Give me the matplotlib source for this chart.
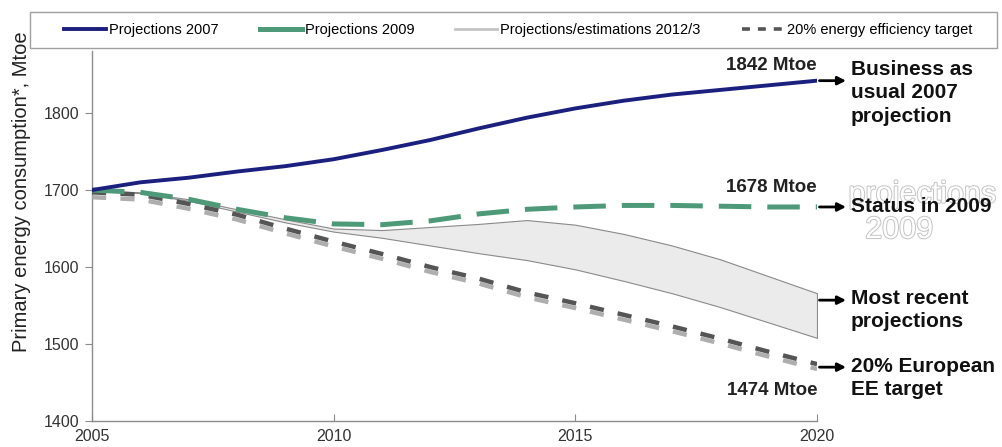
import matplotlib
matplotlib.use("Agg")
import matplotlib.pyplot as plt
import matplotlib.patheffects as pe
from matplotlib.lines import Line2D
from matplotlib.patches import Rectangle

plt.rcParams['font.family'] = ['Liberation Sans', 'DejaVu Sans']

## DATI ##
years = list(range(2005, 2021))
proj2007 = [1700, 1710, 1716, 1724, 1731, 1740, 1752, 1765, 1780, 1794, 1806, 1816, 1824, 1830, 1836, 1842]
proj2009 = [1700, 1697, 1688, 1675, 1664, 1656, 1655, 1660, 1669, 1675, 1678, 1680, 1680, 1679, 1678, 1678]
band_hi = [1700, 1697, 1688, 1675, 1662, 1650, 1648, 1652, 1656, 1661, 1655, 1643, 1628, 1610, 1588, 1566]
band_lo = [1700, 1696, 1686, 1672, 1658, 1646, 1638, 1628, 1618, 1609, 1597, 1582, 1566, 1548, 1528, 1508]
target = [1697, 1694, 1682, 1668, 1650, 1633, 1617, 1600, 1585, 1567, 1553, 1538, 1523, 1507, 1490, 1474]

legend_labels = ["Projections 2007", "Projections 2009",
                 "Projections/estimations 2012/3", "20% energy efficiency target"]
end_values = [("1842 Mtoe", 1862), ("1678 Mtoe", 1703), ("1474 Mtoe", 1440)]
arrow_levels = [1842, 1678, 1557, 1470]
side_labels = [("Business as\nusual 2007\nprojection", 1826),
               ("Status in 2009", 1678),
               ("Most recent\nprojections", 1544),
               ("20% European\nEE target", 1456)]

navy = '#1b1f7e'
green = '#4e9a78'
dgray = '#555555'

fig = plt.figure(figsize=(10.03, 4.47), dpi=100)
ax = fig.add_axes([0.0917, 0.058, 0.7229, 0.827])

# banda proiezioni recenti
ax.fill_between(years, band_lo, band_hi, facecolor='#ebebeb', edgecolor='#8a8a8a', lw=0.8, zorder=2)
ax.plot([2020, 2020], [band_lo[-1], band_hi[-1]], color='#8a8a8a', lw=0.8, zorder=2)

# target 20% con ombra
ax.plot(years, target, color=dgray, lw=3.2, dashes=(3.2, 3.2), solid_capstyle='butt',
        path_effects=[pe.SimpleLineShadow(offset=(0, -3.5), shadow_color='#a5a5a5', alpha=0.9),
                      pe.Normal()], zorder=3)

ax.plot(years, proj2009, color=green, lw=3.6, dashes=(6.5, 3.2), zorder=4)
ax.plot(years, proj2007, color=navy, lw=2.8, zorder=5)

ax.set_xlim(2005, 2020)
ax.set_ylim(1400, 1880)
ax.set_xticks([2005, 2010, 2015, 2020])
ax.set_yticks([1400, 1500, 1600, 1700, 1800])
ax.spines['top'].set_visible(False)
ax.spines['right'].set_visible(False)
for s in ['left', 'bottom']:
    ax.spines[s].set_color('#8c8c8c')
    ax.spines[s].set_linewidth(1.0)
ax.tick_params(axis='y', direction='out', length=5, color='#8c8c8c', labelsize=11.5, labelcolor='#333333', pad=4)
ax.tick_params(axis='x', direction='in', length=5, color='#8c8c8c', labelsize=11.5, labelcolor='#333333', pad=6)

fig.text(0.021, 1 - 192 / 447, "Primary energy consumption*, Mtoe", rotation=90,
         ha='center', va='center', fontsize=14.5, color='#222222')

# etichette valori finali
for txt, yv in end_values:
    ax.text(2020, yv, txt, ha='right', va='center', fontsize=13.5, fontweight='bold', color='#222222')

# frecce
for yv in arrow_levels:
    ax.annotate('', xy=(2020.6, yv), xytext=(2020.05, yv), annotation_clip=False,
                arrowprops=dict(arrowstyle='-|>', color='black', lw=2, mutation_scale=12,
                                shrinkA=0, shrinkB=0))

# testo fantasma
ghost = [pe.withStroke(linewidth=1.4, foreground='#c4c4c4')]
ax.text(2020.65, 1694, "projections", ha='left', va='center', fontsize=22, color='white',
        path_effects=ghost, clip_on=False, zorder=1)
ax.text(2021.7, 1648, "2009", ha='center', va='center', fontsize=22, color='white',
        path_effects=ghost, clip_on=False, zorder=1)

for txt, yv in side_labels:
    ax.text(2020.7, yv, txt, ha='left', va='center', fontsize=15, fontweight='bold',
            color='#111111', linespacing=1.3, clip_on=False, zorder=6)

# legenda con cornice
box = Rectangle((30 / 1003, 1 - 48 / 447), 967 / 1003, 36 / 447, transform=fig.transFigure,
                facecolor='white', edgecolor='#a0a0a0', lw=1.0, zorder=10)
fig.patches.append(box)

handles = [Line2D([], [], color=navy, lw=2.8),
           Line2D([], [], color=green, lw=3.6),
           Line2D([], [], color='#c4c4c4', lw=2),
           Line2D([], [], color=dgray, lw=2.6, dashes=(2.2, 2.2))]
leg = fig.legend(handles, legend_labels, loc='center', bbox_to_anchor=(518 / 1003, 1 - 30 / 447),
                 ncol=4, frameon=False, fontsize=10.5, handlelength=2.9, handletextpad=0.2,
                 columnspacing=2.8, borderaxespad=0, borderpad=0)
leg.set_zorder(11)

fig.savefig('out.png', dpi=100)
